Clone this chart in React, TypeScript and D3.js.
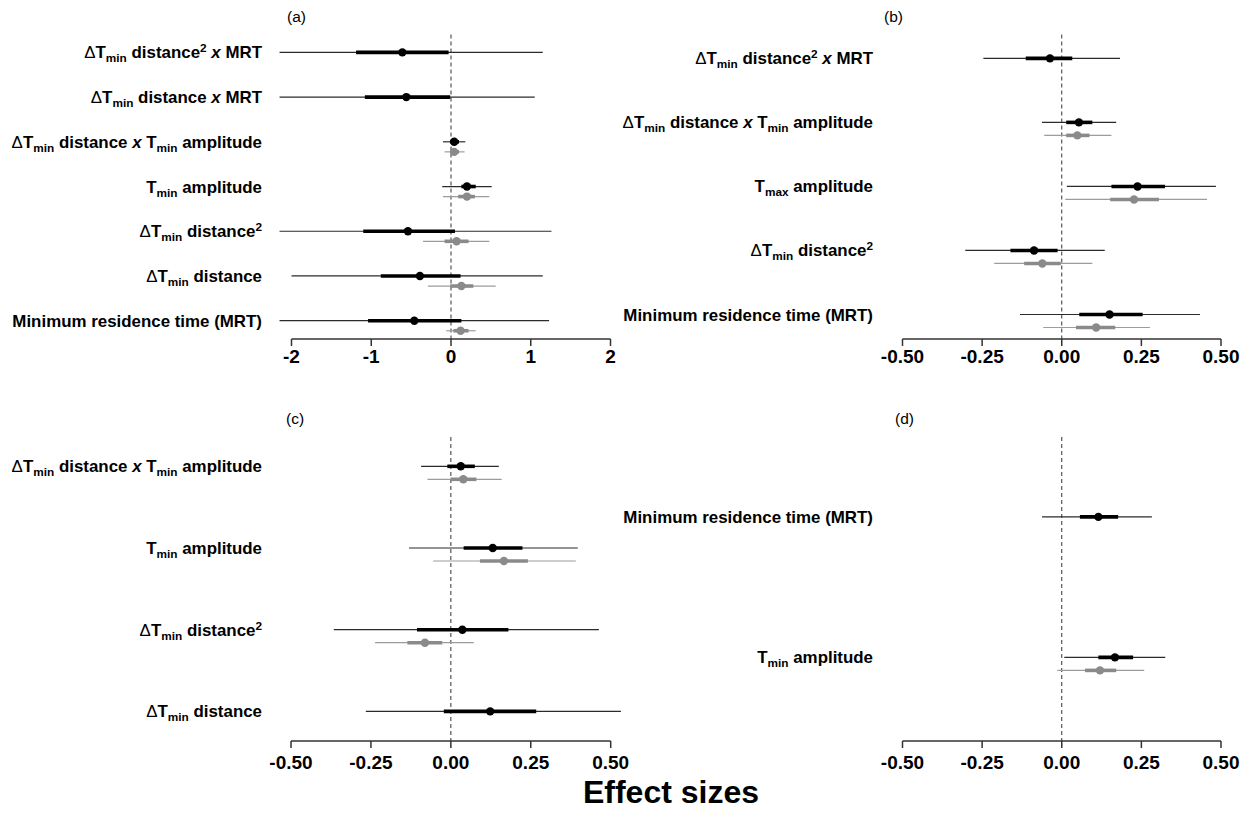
import React from 'react';
import * as d3 from 'd3';

// term labels: _{..} subscript, ^{..} superscript, *..* italic
const termsA = [
  'ΔT_{min} distance^{2} *x* MRT',
  'ΔT_{min} distance *x* MRT',
  'ΔT_{min} distance *x* T_{min} amplitude',
  'T_{min} amplitude',
  'ΔT_{min} distance^{2}',
  'ΔT_{min} distance',
  'Minimum residence time (MRT)',
];
const termsB = [
  'ΔT_{min} distance^{2} *x* MRT',
  'ΔT_{min} distance *x* T_{min} amplitude',
  'T_{max} amplitude',
  'ΔT_{min} distance^{2}',
  'Minimum residence time (MRT)',
];
const termsC = [
  'ΔT_{min} distance *x* T_{min} amplitude',
  'T_{min} amplitude',
  'ΔT_{min} distance^{2}',
  'ΔT_{min} distance',
];
const termsD = [
  'Minimum residence time (MRT)',
  'T_{min} amplitude',
];

// [estimate, inner lo, inner hi, outer lo, outer hi]
type Est = number[] | null;
const blackA: Est[] = [
  [-0.61, -1.19, -0.03, -2.15, 1.15],
  [-0.56, -1.08, -0.01, -2.15, 1.05],
  [0.04, -0.01, 0.10, -0.10, 0.18],
  [0.20, 0.13, 0.31, -0.11, 0.51],
  [-0.54, -1.10, 0.05, -2.15, 1.26],
  [-0.39, -0.88, 0.12, -2.0, 1.15],
  [-0.46, -1.04, 0.13, -2.15, 1.23],
];
const greyA: Est[] = [
  null,
  null,
  [0.04, -0.01, 0.10, -0.08, 0.17],
  [0.20, 0.09, 0.30, -0.10, 0.48],
  [0.07, -0.08, 0.22, -0.35, 0.48],
  [0.13, -0.01, 0.28, -0.29, 0.56],
  [0.12, 0.03, 0.22, -0.06, 0.31],
];
const blackB: Est[] = [
  [-0.037, -0.113, 0.033, -0.246, 0.183],
  [0.054, 0.014, 0.096, -0.062, 0.171],
  [0.238, 0.156, 0.324, 0.016, 0.484],
  [-0.087, -0.161, -0.013, -0.303, 0.135],
  [0.150, 0.055, 0.254, -0.131, 0.434],
];
const greyB: Est[] = [
  null,
  [0.049, 0.014, 0.087, -0.055, 0.156],
  [0.227, 0.152, 0.305, 0.011, 0.456],
  [-0.061, -0.118, -0.003, -0.212, 0.096],
  [0.108, 0.045, 0.168, -0.058, 0.277],
];
const blackC: Est[] = [
  [0.031, -0.011, 0.075, -0.093, 0.150],
  [0.131, 0.040, 0.224, -0.131, 0.397],
  [0.036, -0.106, 0.180, -0.366, 0.463],
  [0.123, -0.022, 0.267, -0.266, 0.532],
];
const greyC: Est[] = [
  [0.039, -0.001, 0.080, -0.073, 0.159],
  [0.166, 0.091, 0.241, -0.055, 0.391],
  [-0.081, -0.136, -0.027, -0.237, 0.072],
  null,
];
const blackD: Est[] = [
  [0.115, 0.057, 0.177, -0.062, 0.283],
  [0.167, 0.115, 0.224, 0.008, 0.325],
];
const greyD: Est[] = [
  null,
  [0.120, 0.073, 0.171, -0.014, 0.259],
];

const ticksWide = [-2, -1, 0, 1, 2];
const tickLabelsWide = ['-2', '-1', '0', '1', '2'];
const ticksNarrow = [-0.5, -0.25, 0, 0.25, 0.5];
const tickLabelsNarrow = ['-0.50', '-0.25', '0.00', '0.25', '0.50'];
const panelTags = ['(a)', '(b)', '(c)', '(d)'];
const xTitle = 'Effect sizes';

const FONT = '"Liberation Sans", Arial, Helvetica, sans-serif';
const LABEL_SIZE = 16.9;

const panels = [
  { tag: panelTags[0], terms: termsA, black: blackA, grey: greyA, ticks: ticksWide, tickLabels: tickLabelsWide,
    x0: 291.5, x1: 610.5, top: 38.5, axisY: 339, labelRight: 262, tagX: 287, pad: [0.31, 0.32], tickBase: 363 },
  { tag: panelTags[1], terms: termsB, black: blackB, grey: greyB, ticks: ticksNarrow, tickLabels: tickLabelsNarrow,
    x0: 902.5, x1: 1221, top: 38.5, axisY: 339, labelRight: 873, tagX: 884, pad: [0.31, 0.32], tickBase: 363 },
  { tag: panelTags[2], terms: termsC, black: blackC, grey: greyC, ticks: ticksNarrow, tickLabels: tickLabelsNarrow,
    x0: 291, x1: 610.7, top: 441, axisY: 741, labelRight: 262, tagX: 286, pad: [0.31, 0.32], tickBase: 769 },
  { tag: panelTags[3], terms: termsD, black: blackD, grey: greyD, ticks: ticksNarrow, tickLabels: tickLabelsNarrow,
    x0: 902.5, x1: 1221, top: 441, axisY: 741, labelRight: 873, tagX: 895, pad: [0.54, 0.57], tickBase: 769 },
];

function Term({ x, y, text }: { x: number; y: number; text: string }) {
  const parts = text.match(/(_\{[^}]*\}|\^\{[^}]*\}|\*[^*]*\*|Δ|[^_^*Δ]+)/g) || [];
  let shift = 0;
  return (
    <text x={x} y={y} textAnchor="end" fontFamily={FONT} fontSize={LABEL_SIZE} fontWeight="bold" fill="#000">
      {parts.map((p, i) => {
        let target = 0;
        let body = p;
        let size = LABEL_SIZE;
        let style: any = {};
        if (p.startsWith('_{')) { target = 4; body = p.slice(2, -1); size = 11.8; }
        else if (p.startsWith('^{')) { target = -6; body = p.slice(2, -1); size = 11.8; }
        else if (p.startsWith('*')) { body = p.slice(1, -1); style = { fontStyle: 'italic' }; }
        else if (p === 'Δ') { style = { fontWeight: 'normal' }; }
        const dy = target - shift;
        shift = target;
        return (
          <tspan key={i} dy={dy} fontSize={size} style={style}>{body}</tspan>
        );
      })}
    </text>
  );
}

function Interval({ e, x, y, grey }: { e: Est; x: any; y: number; grey: boolean }) {
  if (!e) return null;
  const thin = grey ? '#9c9c9c' : '#2b2b2b';
  const thick = grey ? '#8a8a8a' : '#000';
  return (
    <g>
      <line x1={x(e[3])} x2={x(e[4])} y1={y} y2={y} stroke={thin} strokeWidth={1.2} />
      <line x1={x(e[1])} x2={x(e[2])} y1={y} y2={y} stroke={thick} strokeWidth={3.6} />
      <circle cx={x(e[0])} cy={y} r={4.2} fill={grey ? '#8a8a8a' : '#000'} />
    </g>
  );
}

function Panel({ p }: { p: typeof panels[number] }) {
  const x = d3.scaleLinear().domain([p.ticks[0], p.ticks[p.ticks.length - 1]]).range([p.x0, p.x1]);
  const n = p.terms.length;
  const y = d3.scaleLinear().domain([1 - p.pad[0], n + p.pad[1]]).range([p.top, p.top + 296.5]);
  const step = y(2) - y(1);
  const off = Math.min(13, step * 0.225);
  return (
    <g>
      <text x={p.tagX} y={p.top - 17} fontFamily={FONT} fontSize={15.5} fill="#000">{p.tag}</text>
      <line x1={x(0)} x2={x(0)} y1={p.top - 4} y2={p.axisY} stroke="#333" strokeWidth={1} strokeDasharray="4,3" />
      {p.terms.map((t, i) => (
        <g key={i}>
          <Term x={p.labelRight} y={y(i + 1) + 6} text={t} />
          <Interval e={p.black[i]} x={x} y={y(i + 1)} grey={false} />
          <Interval e={p.grey[i]} x={x} y={y(i + 1) + off} grey={true} />
        </g>
      ))}
      <line x1={p.x0} x2={p.x1} y1={p.axisY} y2={p.axisY} stroke="#333" strokeWidth={1.5} />
      {p.ticks.map((t, i) => (
        <g key={i}>
          <line x1={x(t)} x2={x(t)} y1={p.axisY} y2={p.axisY + 7} stroke="#333" strokeWidth={1.5} />
          <text x={x(t)} y={p.tickBase} textAnchor="middle" fontFamily={FONT} fontSize={19} fontWeight="bold" fill="#000">
            {p.tickLabels[i]}
          </text>
        </g>
      ))}
    </g>
  );
}

export default function App() {
  return (
    <svg width={1250} height={822} style={{ position: 'absolute', left: 0, top: 0, background: '#fff' }}>
      <rect width={1250} height={822} fill="#fff" />
      {panels.map((p, i) => <Panel key={i} p={p} />)}
      <text x={671} y={803} textAnchor="middle" fontFamily={FONT} fontSize={32} fontWeight="bold" fill="#000">{xTitle}</text>
    </svg>
  );
}
